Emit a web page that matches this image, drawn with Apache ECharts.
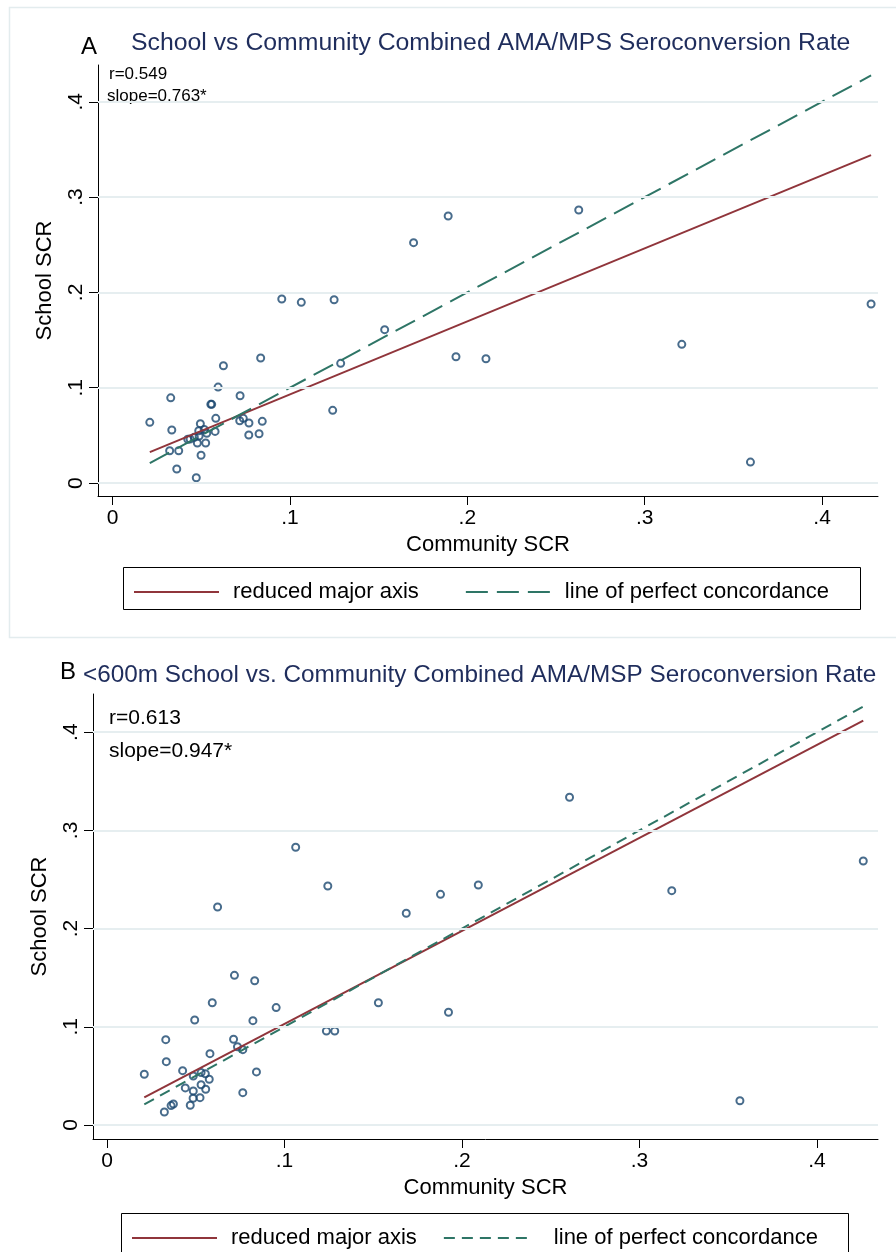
<!DOCTYPE html>
<html>
<head>
<meta charset="utf-8">
<script src="https://cdn.jsdelivr.net/npm/echarts@6/dist/echarts.min.js"></script>
<style>
html,body{margin:0;padding:0;background:#fff;}
#chart{width:896px;height:1252px;}
</style>
</head>
<body>
<div id="chart"></div>
<script>
// ---- Data ----
const tickValues = [0, 0.1, 0.2, 0.3, 0.4];
const tickLabels = ['0', '.1', '.2', '.3', '.4'];
const legendNames = ['reduced major axis', 'line of perfect concordance'];

const titleA = 'School vs Community Combined AMA/MPS Seroconversion Rate';
const titleB = '<600m School vs. Community Combined AMA/MSP Seroconversion Rate';
const statsA = ['r=0.549', 'slope=0.763*'];
const statsB = ['r=0.613', 'slope=0.947*'];

const communityA = [0.021,0.0328,0.0334,0.0322,0.0373,0.0362,0.0472,0.0424,0.0437,0.0461,0.0488,0.0478,0.0525,0.0495,0.0486,0.0517,0.0531,0.0578,0.0499,0.0582,0.0554,0.0559,0.0595,0.0625,0.0719,0.0717,0.0737,0.0769,0.0768,0.0826,0.0844,0.0835,0.0954,0.1064,0.1249,0.1241,0.1286,0.1534,0.1697,0.1892,0.1936,0.2105,0.2628,0.3209,0.3596,0.4276];
const schoolA    = [0.0637,0.0894,0.0556,0.0339,0.0339,0.0147,0.0056,0.0459,0.0462,0.048,0.0493,0.042,0.042,0.0622,0.0549,0.0563,0.0522,0.0542,0.0291,0.0679,0.0826,0.0826,0.1007,0.1231,0.0916,0.0654,0.0679,0.063,0.0504,0.0517,0.0647,0.1312,0.1931,0.1896,0.1923,0.0763,0.1256,0.1609,0.2522,0.2802,0.1325,0.1304,0.2865,0.1455,0.022,0.1878];

const communityB = [0.021,0.0331,0.0334,0.0323,0.0361,0.0374,0.0426,0.0441,0.0469,0.0485,0.0486,0.0486,0.0494,0.0524,0.053,0.053,0.0554,0.0556,0.0576,0.058,0.0593,0.0623,0.0713,0.0718,0.0735,0.0765,0.0765,0.0822,0.0832,0.0842,0.0953,0.1063,0.1236,0.1283,0.1244,0.1529,0.1686,0.1879,0.1924,0.2092,0.2606,0.3182,0.3566,0.4261];
const schoolB    = [0.0516,0.0869,0.0645,0.0132,0.0197,0.0214,0.0553,0.0377,0.0201,0.0272,0.0346,0.0499,0.1069,0.0278,0.041,0.0533,0.0522,0.0364,0.0465,0.0726,0.1245,0.222,0.0873,0.1524,0.0797,0.0767,0.0329,0.1062,0.1469,0.054,0.1195,0.2828,0.0957,0.0957,0.2434,0.1245,0.2156,0.2349,0.1148,0.2444,0.3337,0.2386,0.0247,0.2688];

const rmaA  = [[0.021, 0.0325], [0.4276, 0.344]];
const concA = [[0.021, 0.021], [0.4276, 0.4276]];
const rmaB  = [[0.021, 0.0282], [0.4261, 0.4118]];
const concB = [[0.021, 0.021], [0.4261, 0.4261]];

// ---- Styles ----
const FONT = "'Liberation Sans', Arial, Helvetica, sans-serif";
const NAVY = '#1a476f';
const RED = '#90353b';
const GREEN = '#2e7566';
const GRID = '#e6eef0';
const TITLE_COLOR = '#1f2d5c';

function pairs(xs, ys) { return xs.map((x, i) => [x, ys[i]]); }

function xAxisCfg(gi, min, max) {
  return {
    type: 'value', gridIndex: gi, min: min, max: max,
    name: 'Community SCR', nameLocation: 'middle', nameGap: 38,
    nameTextStyle: {fontFamily: FONT, fontSize: 22, color: '#000'},
    axisLine: {show: true, onZero: false, lineStyle: {color: '#000', width: 1}},
    axisTick: {show: true, length: 9, customValues: tickValues, lineStyle: {color: '#000'}},
    axisLabel: {show: true, customValues: tickValues, margin: 12,
      formatter: v => tickLabels[tickValues.findIndex(t => Math.abs(t - v) < 1e-9)],
      fontFamily: FONT, fontSize: 21, color: '#000'},
    splitLine: {show: false}
  };
}
function yAxisCfg(gi, min, max) {
  return {
    type: 'value', gridIndex: gi, min: min, max: max,
    name: 'School SCR', nameLocation: 'middle', nameGap: 42, nameRotate: 90,
    nameTextStyle: {fontFamily: FONT, fontSize: 22, color: '#000'},
    axisLine: {show: true, onZero: false, lineStyle: {color: '#000', width: 1}},
    axisTick: {show: true, length: 9, customValues: tickValues, lineStyle: {color: '#000'}},
    axisLabel: {show: true, customValues: tickValues, margin: 11, rotate: 90,
      formatter: v => tickLabels[tickValues.findIndex(t => Math.abs(t - v) < 1e-9)],
      fontFamily: FONT, fontSize: 21, color: '#000'},
    splitLine: {show: false}
  };
}

function panelSeries(gi, xs, ys, rma, conc, dash) {
  return [
    {
      type: 'line', xAxisIndex: gi, yAxisIndex: gi, data: [], z: 1, silent: true,
      markLine: {silent: true, symbol: 'none', label: {show: false},
        lineStyle: {color: GRID, width: 2, type: 'solid'},
        data: tickValues.map(v => ({yAxis: v}))}
    },
    {
      type: 'scatter', xAxisIndex: gi, yAxisIndex: gi, data: pairs(xs, ys), z: 2,
      symbol: 'circle', symbolSize: 7,
      itemStyle: {color: 'rgba(0,0,0,0)', borderColor: NAVY, borderWidth: 2}
    },
    {
      name: legendNames[0], type: 'line', xAxisIndex: gi, yAxisIndex: gi, data: rma, z: 3,
      symbol: 'none', itemStyle: {color: 'rgba(0,0,0,0)'},
      lineStyle: {color: RED, width: 2, type: 'solid'}
    },
    {
      name: legendNames[1], type: 'line', xAxisIndex: gi, yAxisIndex: gi, data: conc, z: 3,
      symbol: 'none', itemStyle: {color: 'rgba(0,0,0,0)'},
      lineStyle: {color: GREEN, width: 2, type: dash}
    }
  ];
}

const chart = echarts.init(document.getElementById('chart'), null, {renderer: 'canvas'});

const option = {
  backgroundColor: '#fff',
  animation: false,
  grid: [
    {left: 98, top: 65, width: 780, height: 431},
    {left: 93, top: 694, width: 785, height: 445}
  ],
  xAxis: [xAxisCfg(0, -0.0082, 0.4315), xAxisCfg(1, -0.0079, 0.4344)],
  yAxis: [yAxisCfg(0, -0.0136, 0.4386), yAxisCfg(1, -0.0143, 0.4389)],
  legend: [
    {
      left: 128, top: 576, itemWidth: 85, itemHeight: 14, itemGap: 46,
      selectedMode: false,
      textStyle: {fontFamily: FONT, fontSize: 22, color: '#000', padding: [0, 0, 0, 9]},
      data: [{name: legendNames[0]}, {name: legendNames[1], lineStyle: {type: [22, 9]}}]
    },
    {
      left: 126, top: 1222, itemWidth: 85, itemHeight: 14, itemGap: 26,
      selectedMode: false,
      textStyle: {fontFamily: FONT, fontSize: 22, color: '#000', padding: [0, 0, 0, 9]},
      data: [{name: legendNames[0]},
             {name: legendNames[1], lineStyle: {type: [11, 7]},
              textStyle: {fontFamily: FONT, fontSize: 22, color: '#000', padding: [0, 0, 0, 20]}}]
    }
  ],
  graphic: [
    {type: 'rect', silent: true, z: -10, shape: {x: 9.5, y: 7.5, width: 900, height: 630},
      style: {fill: 'none', stroke: '#e3ecee', lineWidth: 1.5}},
    {type: 'rect', silent: true, z: -5, shape: {x: 123.5, y: 567.5, width: 737, height: 42},
      style: {fill: '#fff', stroke: '#000', lineWidth: 1}},
    {type: 'rect', silent: true, z: -5, shape: {x: 121.5, y: 1213.5, width: 727, height: 60},
      style: {fill: '#fff', stroke: '#000', lineWidth: 1}},
    {type: 'text', left: 81, top: 35, style: {text: 'A', font: '24px ' + FONT, fill: '#000'}},
    {type: 'text', left: 131, top: 31, style: {text: titleA, font: '24.8px ' + FONT, fill: TITLE_COLOR}},
    {type: 'text', left: 109, top: 66, style: {text: statsA[0], font: '17px ' + FONT, fill: '#000'}},
    {type: 'text', left: 107, top: 88, style: {text: statsA[1], font: '17px ' + FONT, fill: '#000'}},
    {type: 'text', left: 60, top: 660, style: {text: 'B', font: '24px ' + FONT, fill: '#000'}},
    {type: 'text', left: 83, top: 663, style: {text: titleB, font: '24.3px ' + FONT, fill: TITLE_COLOR}},
    {type: 'text', left: 109, top: 708, style: {text: statsB[0], font: '21px ' + FONT, fill: '#000'}},
    {type: 'text', left: 109, top: 741, style: {text: statsB[1], font: '21px ' + FONT, fill: '#000'}}
  ],
  series: [].concat(
    panelSeries(0, communityA, schoolA, rmaA, concA, [22, 9]),
    panelSeries(1, communityB, schoolB, rmaB, concB, [11, 7])
  )
};
chart.setOption(option);
</script>
</body>
</html>
